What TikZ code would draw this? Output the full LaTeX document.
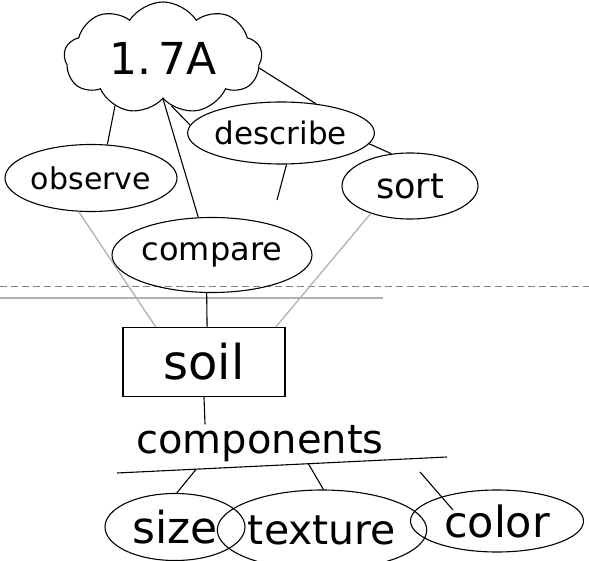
\documentclass[tikz,border=0pt]{standalone}
\usepackage{fontspec}
\setmainfont{DejaVu Sans}
\usetikzlibrary{shapes.geometric, shapes.symbols, calc}

\begin{document}
\begin{tikzpicture}[x=1pt, y=-1pt, line width=1.1pt,
        bubble/.style={draw, ellipse, inner sep=0pt},
        faint/.style={gray!65, line width=1.2pt}]
    \useasboundingbox (0,0) rectangle (589,561);

    % scan lines across the page
    \draw[gray, dash pattern=on 7pt off 4pt, line width=0.6pt] (0,286) -- (589,286);
    \draw[gray!60, line width=1.5pt] (0,298) -- (383,298);

    \node[draw, cloud, cloud puffs=9, cloud puff arc=115, cloud ignores aspect, minimum width=198pt, minimum height=112pt, inner sep=0pt, font=\fontsize{44pt}{44pt}\selectfont] (lesson) at (163,58) {1.\,7A};

    \foreach \n/\x/\y/\w/\h/\s/\t in {observe/91/178/172/67/30/observe, describe/281/133/182/62/31/describe, sort/410/186/136/66/35/sort, compare/212/255/200/75/32/compare, size/175/527/140/67/44/size, texture/322/530/195/80/41/texture, color/497/521/173/62/43/color} {
        \node[bubble, minimum width=\w pt, minimum height=\h pt, font=\fontsize{\s pt}{\s pt}\selectfont] (\n) at (\x,\y) {\t};
    }

    \node[draw, minimum width=162pt, minimum height=69pt, font=\fontsize{48pt}{48pt}\selectfont] (soil) at (204,362) {soil};
    \node[anchor=base, inner sep=0pt, font=\fontsize{40pt}{40pt}\selectfont] (components) at (260,453) {components};

    \coordinate (ul1) at (117,473);
    \coordinate (ul2) at (447,457);
    \coordinate (dangle) at (277,200);
    \coordinate (cstart) at (420,472);

    % links
    \draw (lesson.225) -- (observe.64);
    \draw (lesson.270) -- (compare.110);
    \draw (lesson.280) -- (describe.175);
    \draw (lesson.354) -- (describe.40);
    \draw (describe.353) -- (sort.120);
    \draw (describe.280) -- (dangle);
    \draw[faint] (observe.250) -- (soil.144);
    \draw (compare.262) -- (soil.85);
    \draw[faint] (sort.215) -- (soil.26);
    \draw (soil.south) -- ($(components.north)+(-55,0)$);

    \draw (ul1) -- (ul2);
    \draw ($(ul1)!0.24!(ul2)$) -- (size.87);
    \draw ($(ul1)!0.58!(ul2)$) -- (texture.88);
    \draw (cstart) -- ($(color.center)+(-44,-11)$);
\end{tikzpicture}
\end{document}
